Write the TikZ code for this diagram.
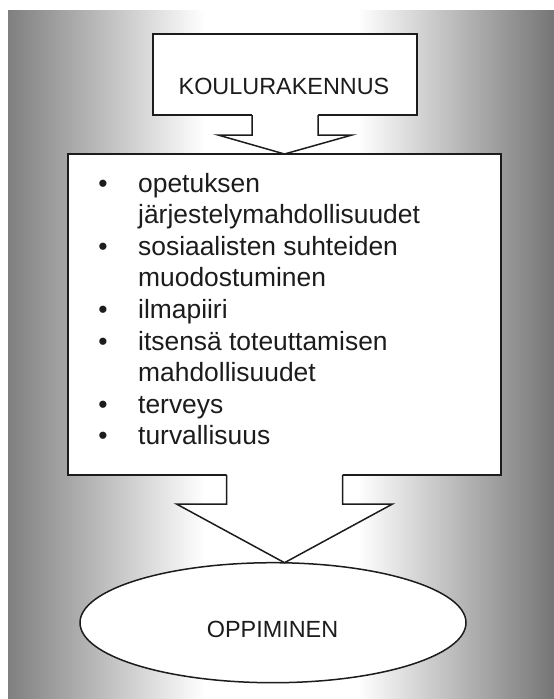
\documentclass[tikz,border=0pt]{standalone}
\usepackage{fontspec}
\setmainfont{Liberation Sans}
\usetikzlibrary{shapes.geometric,calc}

% grey at both sides, white band in the middle
\pgfdeclarehorizontalshading{sidegray}{100bp}{%
  rgb(0bp)=(0.50,0.50,0.50); rgb(25bp)=(0.50,0.50,0.50);
  rgb(43bp)=(1,1,1); rgb(57bp)=(1,1,1);
  rgb(75bp)=(0.46,0.46,0.46); rgb(100bp)=(0.46,0.46,0.46)}

\definecolor{ink}{HTML}{1C1C1C}

\tikzset{
  panel/.style={draw=ink, fill=white, line width=1.5pt, outer sep=0pt, inner sep=0pt},
  outline/.style={draw=ink, line width=1.5pt, line join=miter},
  caption/.style={font=\fontsize{23.4}{28}\selectfont, text=ink, inner sep=0pt},
  itemtext/.style={font=\fontsize{26.4}{31.6}\selectfont, text=ink, inner sep=0pt, anchor=base west},
  itembullet/.style={font=\fontsize{26.4}{31.6}\selectfont, text=ink, inner sep=0pt, anchor=base},
}

\begin{document}
\begin{tikzpicture}[x=1pt, y=-1pt]
  \useasboundingbox (0,0) rectangle (554,699);
  \fill[white] (0,0) rectangle (554,699);
  \shade[shading=sidegray] (8,10) rectangle (554,699);

  % boxes
  \node[panel, minimum width=264pt, minimum height=81pt] (building) at (285,74.5) {};
  \node[caption, anchor=base] (buildingtext) at (284,94) {KOULURAKENNUS};

  \node[panel, minimum width=433pt, minimum height=321pt] (factors) at (284.5,314.5) {};

  \node[panel, ellipse, minimum width=386pt, minimum height=120pt] (learning) at (273,622.7) {};
  \node[caption, anchor=base] (learningtext) at (272.5,637) {OPPIMINEN};

  % list inside the middle box
  \foreach \txt [count=\i] in {opetuksen, järjestelymahdollisuudet,
      sosiaalisten suhteiden, muodostuminen, ilmapiiri,
      itsensä toteuttamisen, mahdollisuudet, terveys, turvallisuus}
    \node[itemtext] (line\i) at (138,{192+(\i-1)*31.6}) {\txt};
  \foreach \i in {1,3,5,6,8,9}
    \node[itembullet] (dot\i) at (line\i.base west -| 103,0) {•};

  % block arrow from the building box to the list box
  \fill[white] ($(building.south)+(-33,-1)$) -- ($(building.south)+(-33,20)$)
    -- ($(building.south)+(-67,20)$) -- (factors.north)
    -- ($(building.south)+(67,20)$) -- ($(building.south)+(33,20)$)
    -- ($(building.south)+(33,-1)$) -- cycle;
  \draw[outline] ($(building.south)+(-33,0)$) -- ++(0,20) -- ++(-34,0)
    -- (factors.north) -- ($(building.south)+(67,20)$) -- ++(-34,0) -- ++(0,-20);

  % block arrow from the list box to the ellipse
  \coordinate (tipB) at (learning.north -| factors.south);
  \fill[white] ($(factors.south)+(-58,-1)$) -- ($(factors.south)+(-58,29)$)
    -- ($(factors.south)+(-108,29)$) -- (tipB)
    -- ($(factors.south)+(108,29)$) -- ($(factors.south)+(58,29)$)
    -- ($(factors.south)+(58,-1)$) -- cycle;
  \draw[outline] ($(factors.south)+(-58,0)$) -- ++(0,29) -- ++(-50,0)
    -- (tipB) -- ($(factors.south)+(108,29)$) -- ++(-50,0) -- ++(0,-29);
\end{tikzpicture}
\end{document}
